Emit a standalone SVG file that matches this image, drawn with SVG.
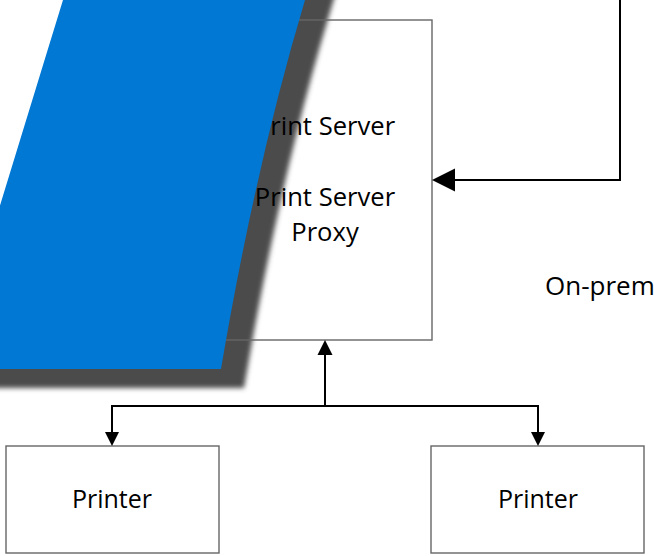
<svg xmlns="http://www.w3.org/2000/svg" width="654" height="556" viewBox="0 0 654 556">
  <style>
    .box { fill: none; stroke: #666666; stroke-width: 1.4; }
    .lbl { font-family: "Open Sans", "Noto Sans", "DejaVu Sans", sans-serif; font-size: 25.6px; fill: #000; text-anchor: middle; }
    .conn { fill: none; stroke: #000; stroke-width: 2; }
    .head { fill: #000; stroke: none; }
  </style>
  <defs>
    <filter id="blur" x="-20%" y="-20%" width="140%" height="140%">
      <feGaussianBlur stdDeviation="2.5"/>
    </filter>
  </defs>
  <rect width="654" height="556" fill="#fff"/>

  <!-- shadow of the blue band -->
  <path transform="translate(23,19)" filter="url(#blur)" fill="#4b4b4b"
        d="M 317,-40 L 305,0 Q 255.8,164 221,369 L -50,369 Q 20,140 63,0 L 75,-40 Z"/>

  <g id="print-server">
    <rect class="box" x="218" y="20" width="214" height="320"/>
    <text class="lbl" x="325" y="135">Print Server</text>
    <text class="lbl" x="325" y="206">Print Server</text>
    <text class="lbl" x="325" y="241">Proxy</text>
  </g>

  <g id="printer-1">
    <rect class="box" x="6" y="446" width="213" height="107"/>
    <text class="lbl" x="112" y="508" style="font-size:25px">Printer</text>
  </g>

  <g id="printer-2">
    <rect class="box" x="431" y="446" width="213" height="107"/>
    <text class="lbl" x="538" y="508" style="font-size:25px">Printer</text>
  </g>

  <g id="on-premises">
    <text class="lbl" x="545" y="295" style="text-anchor:start;font-size:26px">On-prem</text>
  </g>

  <g id="connectors">
    <polyline class="conn" points="620,-2 620,180 454,180"/>
    <polygon class="head" points="432,180 455,168.5 455,191.5"/>
    <line class="conn" x1="325" y1="406" x2="325" y2="354"/>
    <polygon class="head" points="325,340 317.5,355 332.5,355"/>
    <polyline class="conn" points="112,433 112,406 538,406 538,433"/>
    <polygon class="head" points="112,446 105,432 119,432"/>
    <polygon class="head" points="538,446 531,432 545,432"/>
  </g>

  <!-- blue band (cloud boundary) -->
  <g id="blue-band">
    <path fill="#0078D4"
          d="M 317,-40 L 305,0 Q 255.8,164 221,369 L -50,369 Q 20,140 63,0 L 75,-40 Z"/>
  </g>
</svg>
